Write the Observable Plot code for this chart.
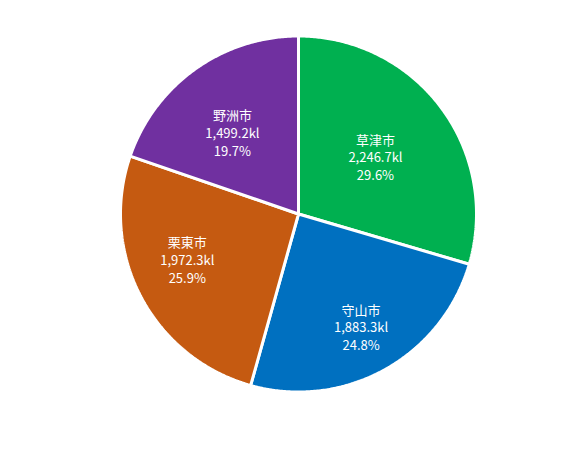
<!DOCTYPE html>
<html><head><meta charset="utf-8">
<script src="https://cdn.jsdelivr.net/npm/d3@7"></script>
<script src="https://cdn.jsdelivr.net/npm/@observablehq/plot@0.6"></script>
<style>body{margin:0;background:#fff;} #chart{width:573px;height:453px;}</style>
</head><body><div id="chart"></div>
<script>
const cities = ["草津市", "守山市", "栗東市", "野洲市"];
const volumes = [2246.7, 1883.3, 1972.3, 1499.2];
const valueLabels = ["2,246.7kl", "1,883.3kl", "1,972.3kl", "1,499.2kl"];
const percentLabels = ["29.6%", "24.8%", "25.9%", "19.7%"];
const colors = ["#00B050", "#0070C0", "#C55A11", "#7030A0"];
// label placement (layout only): distance from centre as fraction of radius, angular shift in degrees
const labelRadius = [0.54, 0.725, 0.675, 0.59];
const labelShift = [0, 0, 5.5, -3.5];

const total = d3.sum(volumes);
let acc = 0;
const slices = cities.map((c, i) => {
  const a0 = acc / total * 2 * Math.PI;
  acc += volumes[i];
  const a1 = acc / total * 2 * Math.PI;
  return {city: c, a0, a1, i};
});
const polyPts = [];
for (const s of slices) {
  polyPts.push({city: s.city, x: 0, y: 0});
  const n = Math.max(2, Math.ceil((s.a1 - s.a0) / (Math.PI / 360)));
  for (let k = 0; k <= n; k++) {
    const a = s.a0 + (s.a1 - s.a0) * k / n;
    polyPts.push({city: s.city, x: Math.sin(a), y: Math.cos(a)});
  }
}
const labels = slices.map(s => {
  const m = (s.a0 + s.a1) / 2 + labelShift[s.i] * Math.PI / 180, r = labelRadius[s.i];
  return {x: r * Math.sin(m), y: r * Math.cos(m),
          text: `${s.city}\n${valueLabels[s.i]}\n${percentLabels[s.i]}`};
});

const chart = Plot.plot({
  width: 573, height: 453,
  marginLeft: 120, marginRight: 97, marginTop: 35.5, marginBottom: 61.5,
  x: {domain: [-1, 1], axis: null},
  y: {domain: [-1, 1], axis: null},
  color: {domain: cities, range: colors},
  style: {background: "#fff"},
  marks: [
    Plot.line(polyPts, {x: "x", y: "y", z: "city", fill: "city", stroke: "#fff",
      strokeWidth: 3, curve: "linear-closed", strokeLinejoin: "miter"}),
    Plot.text(labels, {x: "x", y: "y", text: "text", fill: "#fff",
      fontSize: 13, lineHeight: 1.35, lineAnchor: "middle",
      fontFamily: "'Noto Sans CJK JP', 'Noto Sans', sans-serif"})
  ]
});
document.getElementById("chart").appendChild(chart);
</script>
</body></html>
